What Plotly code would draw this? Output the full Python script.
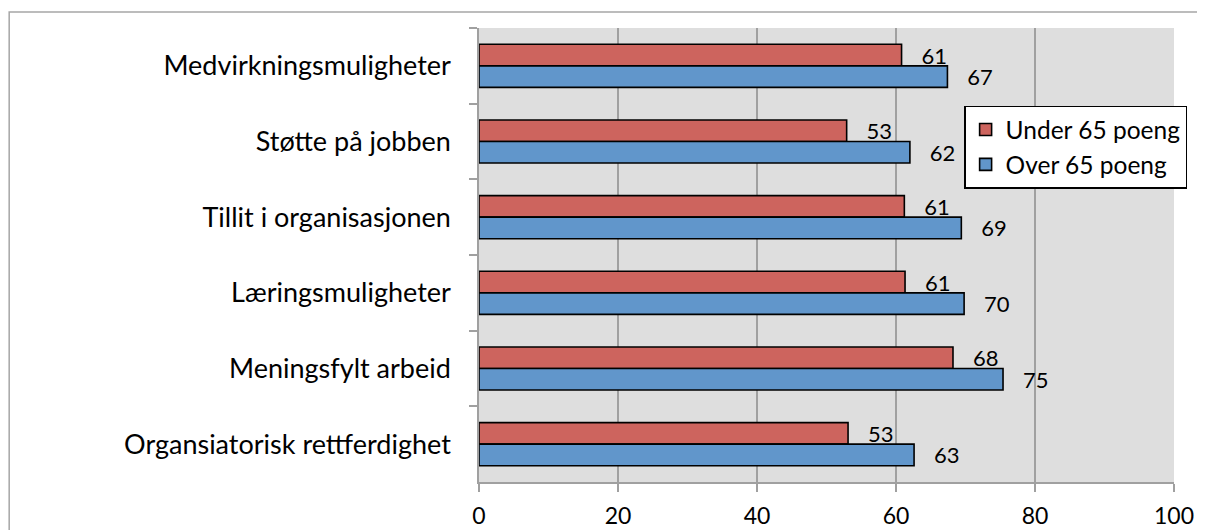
import plotly.graph_objects as go

categories = [
    "Medvirkningsmuligheter",
    "Støtte på jobben",
    "Tillit i organisasjonen",
    "Læringsmuligheter",
    "Meningsfylt arbeid",
    "Organsiatorisk rettferdighet",
]
under_65 = [60.8, 52.9, 61.2, 61.3, 68.2, 53.1]
over_65 = [67.4, 62.0, 69.4, 69.8, 75.4, 62.6]
series_names = ["Under 65 poeng", "Over 65 poeng"]
x_ticks = [0, 20, 40, 60, 80, 100]

FONT = "Lato"
pad = "\u00a0\u00a0\u00a0"

fig = go.Figure()
fig.add_trace(go.Bar(
    y=categories, x=under_65, orientation="h", name=series_names[0],
    marker=dict(color="#cd645e", line=dict(color="black", width=1.6)),
    texttemplate=pad + "%{x:.0f}", textposition="outside", cliponaxis=False,
    constraintext="none",
    textfont=dict(family=FONT, size=22, color="black"),
))
fig.add_trace(go.Bar(
    y=categories, x=over_65, orientation="h", name=series_names[1],
    marker=dict(color="#6196cb", line=dict(color="black", width=1.6)),
    texttemplate=pad + "%{x:.0f}", textposition="outside", cliponaxis=False,
    constraintext="none",
    textfont=dict(family=FONT, size=22, color="black"),
))

# page body adds an 8px offset; size figure so it fills the window from there
fig.update_layout(
    width=1197, height=522,
    margin=dict(l=471, r=31, t=20, b=48, autoexpand=False),
    paper_bgcolor="white",
    plot_bgcolor="#dedede",
    barmode="group",
    bargap=0.43,
    bargroupgap=0,
    font=dict(family=FONT, size=22, color="black"),
    showlegend=True,
    legend=dict(
        x=0.698, y=0.829, xanchor="left", yanchor="top",
        bgcolor="white", bordercolor="black", borderwidth=1.5,
        font=dict(family=FONT, size=24.5, color="black"),
        tracegroupgap=0, itemwidth=30,
    ),
    xaxis=dict(
        range=[0, 100], tickvals=x_ticks, automargin=False,
        showgrid=True, gridcolor="#a0a0a0", gridwidth=1.5,
        showline=True, linecolor="#a0a0a0", linewidth=1.5,
        ticks="outside", ticklen=8, tickcolor="#a0a0a0", tickwidth=1.5,
        ticklabelstandoff=5, zeroline=False,
        tickfont=dict(family=FONT, size=23, color="black"),
    ),
    yaxis=dict(
        autorange="reversed", type="category", automargin=False,
        showline=True, linecolor="#a0a0a0", linewidth=1.5,
        ticks="outside", tickson="boundaries", ticklen=8,
        tickcolor="#a0a0a0", tickwidth=1.5, showgrid=False,
        ticklabelstandoff=21,
        tickfont=dict(family=FONT, size=27, color="black"),
    ),
    shapes=[dict(
        type="rect", xref="paper", yref="paper",
        x0=-0.676, x1=1.2, y0=-0.3, y1=1.035,
        line=dict(color="#a6a6a6", width=1.5), fillcolor="rgba(0,0,0,0)",
        layer="below",
    )],
)

fig.write_html("out.html")
